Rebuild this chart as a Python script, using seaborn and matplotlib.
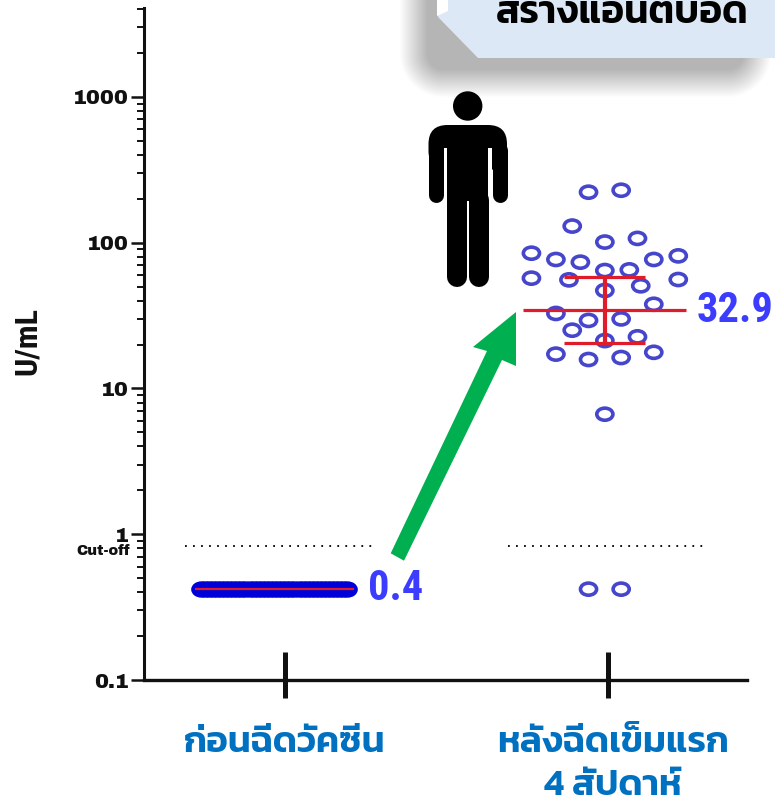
import numpy as np
import pandas as pd
import seaborn as sns
import matplotlib
matplotlib.use("Agg")
import matplotlib.pyplot as plt
from matplotlib.patches import Circle, FancyBboxPatch, Polygon, Rectangle
from matplotlib.lines import Line2D
from matplotlib.path import Path
from matplotlib.transforms import Affine2D, ScaledTranslation

# values
group_labels = ["ก่อนฉีดวัคซีน", "หลังฉีดเข็มแรก\n4 สัปดาห์"]
y_ticks = [0.1, 1, 10, 100, 1000]
y_tick_labels = ["0.1", "1", "10", "100", "1000"]
cutoff = 0.83

before_slots = np.arange(-4.5, 4.75, 0.25)  # all the same value, they pile up into a bar
before_values = [0.42] * len(before_slots)
before_mean = 0.42

after_values = [222, 229, 130, 101, 107, 84.7, 76.7, 73.5, 76.7, 81.2, 64.4, 65.1, 57.1, 55.6, 55.9,
                50.6, 47.0, 37.8, 32.7, 29.3, 30.0, 25.1, 22.6, 21.3, 17.2, 17.7, 15.8, 16.3, 6.66,
                0.42, 0.42]
after_slots = [-1, 1, -2, 0, 2, -4.5, -3, -1.5, 3, 4.5, 0, 1.5, -4.5, -2.2, 4.5,
               2.2, 0, 3, -3, -1, 1, -2, 2, 0, -3, 3, -1, 1, 0,
               -1, 1]
after_mean = 34.4
after_low = 20.5
after_high = 58.2

before_center = -0.034
after_center = 0.99
slot_width = 0.0505

sns.set_theme(style="ticks")
plt.rcParams["font.family"] = ["Kanit", "DejaVu Sans"]

fig = plt.figure(figsize=(7.75, 8.02), dpi=100)
ax = fig.add_axes([144 / 775, (802 - 680) / 802, (747 - 144) / 775, (680 - 8) / 802])
ax.patch.set_visible(False)
px = Affine2D().scale(1, -1).translate(0, 802)  # picture pixels, for the pasted-on bits

# blurred shadow behind the banner
yy, xx = np.mgrid[0:802, 0:775]
qx = np.abs(xx - 585) - (172 - 30)
qy = np.abs(yy - 20) - (63 - 30)
dist = np.hypot(np.maximum(qx, 0), np.maximum(qy, 0)) + np.minimum(np.maximum(qx, qy), 0) - 30
shade = np.clip(0.5 - dist / 28, 0, 1)
img = np.zeros((802, 775, 4))
img[..., :3] = 0.71
img[..., 3] = shade
fig.figimage(img, 0, 0, origin="upper", zorder=0)

# banner
fig.add_artist(Polygon([(438, -5), (438, 17), (478, 58), (780, 58), (780, -5)], transform=px,
                       facecolor="#DCE8F5", edgecolor="none", zorder=1))
fig.add_artist(Polygon([(437, -5), (448, -5), (448, 11), (437, 16)], transform=px,
                       facecolor="white", edgecolor="none", zorder=1.1))
fig.text(622, 802 - 23, "สร้างแอนติบอดี", transform=Affine2D(), ha="center", va="baseline",
         fontsize=28, fontweight="semibold", color="black", zorder=2)

# points
ellipse = Path.unit_circle().transformed(Affine2D().scale(1, 0.75))
before_df = pd.DataFrame({"x": before_center + before_slots * slot_width, "y": before_values})
after_df = pd.DataFrame({"x": [after_center + s * slot_width for s in after_slots], "y": after_values})
sns.scatterplot(data=before_df, x="x", y="y", ax=ax, marker=ellipse, s=150, color="#0000D8",
                edgecolor="#0000D8", linewidth=2.6, legend=False, zorder=3, clip_on=False)
sns.scatterplot(data=after_df, x="x", y="y", ax=ax, marker=ellipse, s=135, facecolor="none",
                edgecolor="#4646CC", linewidth=2.6, legend=False, zorder=3, clip_on=False)

ax.set_yscale("log")
ax.set_ylim(0.1, 10 ** 3.61)
ax.set_xlim(-0.4365, 1.43)

# mean and spread
red = "#E01B2A"
ax.hlines(before_mean, before_center - 0.246, before_center + 0.246, color=red, lw=1.6, zorder=4)
ax.hlines(after_mean, after_center - 0.252, after_center + 0.252, color=red, lw=2.3, zorder=4)
ax.hlines([after_low, after_high], after_center - 0.125, after_center + 0.125, color=red, lw=2.3, zorder=4)
ax.vlines(after_center, after_low, after_high, color=red, lw=3.0, zorder=4)

# cut-off dots
dots = (0, (1, 3.44))
ax.hlines(cutoff, -0.31, 0.272, color="black", lw=1.3, linestyles=[dots], zorder=2)
ax.hlines(cutoff, 0.69, 1.307, color="black", lw=1.3, linestyles=[dots], zorder=2)

# axes
sns.despine(ax=ax)
ax.spines["left"].set_linewidth(2.2)
ax.spines["bottom"].set_linewidth(2.4)
ax.spines["left"].set_color("#111111")
ax.spines["bottom"].set_color("#111111")
ax.set_yticks(y_ticks)
ax.set_yticklabels(y_tick_labels, family="Archivo Black", fontsize=15, color="#111111")
ax.tick_params(axis="y", which="major", length=9.4, width=1.8, pad=1.5, color="#111111")
ax.tick_params(axis="y", which="minor", length=5, width=1.4, color="#111111")
ax.set_xticks([0, 1])
ax.set_xticklabels(group_labels, fontsize=26.5, fontweight="semibold", color="#0070C0", linespacing=1.4)
ax.tick_params(axis="x", direction="out", length=13, width=3.6, pad=21, color="#111111")
ax.vlines([0, 1], 0.1, 0.1556, color="#111111", lw=3.6, zorder=2)  # tick marks poke up above the axis too
ax.set_xlabel("")
ax.set_ylabel("")
second = ax.get_xticklabels()[1]
second.set_transform(second.get_transform() + ScaledTranslation(5 / 100, 0, fig.dpi_scale_trans))

fig.text(130, 802 - 555, "Cut-off", transform=Affine2D(), ha="right", va="baseline",
         family="Archivo Black", fontsize=10.5, color="#111111")
fig.text(27, 802 - 341, "U/mL", transform=Affine2D(), ha="center", va="center", rotation=90,
         family="Roboto Condensed", fontweight="bold", fontsize=23, color="#111111")

# value labels
fig.text(697, 802 - 322, "32.9", transform=Affine2D(), ha="left", va="baseline",
         family="Roboto Condensed", fontweight="bold", fontsize=30.5, color="#3C3CFF")
fig.text(368, 802 - 600, "0.4", transform=Affine2D(), ha="left", va="baseline",
         family="Roboto Condensed", fontweight="bold", fontsize=30.5, color="#3C3CFF")

# green arrow
fig.add_artist(Polygon([(390.7, 553.3), (487, 351), (473, 347), (516, 312), (516, 366), (502, 360), (404, 560.7)],
                       transform=px, facecolor="#00B050", edgecolor="none", zorder=5))

# person
fig.add_artist(Circle((467.7, 106), 14.7, transform=px, facecolor="black", edgecolor="none", zorder=6))
fig.add_artist(FancyBboxPatch((428.5, 125), 78.5, 45, boxstyle="round,pad=0,rounding_size=19", transform=px,
                              facecolor="black", edgecolor="none", zorder=6))
fig.add_artist(Rectangle((428.5, 144), 78.5, 12, transform=px, facecolor="black", edgecolor="none", zorder=6))
for x0, x1 in [(443.5, 447), (488, 492)]:
    fig.add_artist(Rectangle((x0, 148), x1 - x0, 30, transform=px, facecolor="white", edgecolor="none", zorder=6.1))
for x, y0, y1, w in [(436, 150, 195, 15), (499.5, 150, 195, 15), (456.5, 200, 277, 20), (479, 200, 277, 20)]:
    fig.add_artist(Line2D([x, x], [y0, y1], transform=px, color="black", lw=w * 0.72, solid_capstyle="round", zorder=6.2))
fig.add_artist(Rectangle((447, 140), 41, 61, transform=px, facecolor="black", edgecolor="none", zorder=6.2))

fig.savefig("out.png", dpi=100)
